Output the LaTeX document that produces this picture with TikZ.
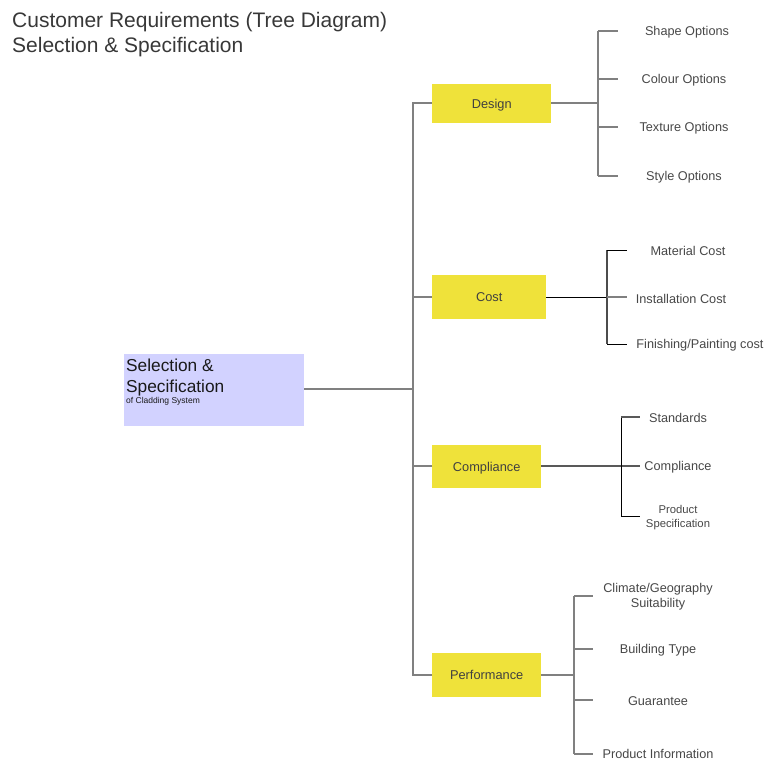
\documentclass[tikz,border=0pt]{standalone}
\usepackage{fontspec}
\setmainfont{Liberation Sans}
\begin{document}
\begin{tikzpicture}[x=1pt,y=-1pt,
  txt/.style={text=black!72, inner sep=0pt, font=\fontsize{12.7}{14}\selectfont, align=center},
  catbox/.style={fill=catyellow, draw=none, inner sep=0pt, anchor=north west,
    text=black!75, font=\fontsize{12.8}{14}\selectfont, text height=9pt, text depth=0pt},
  link/.style={draw=black!50, line width=1.4pt},
  darklink/.style={draw=black, line width=1pt}]
\definecolor{catyellow}{HTML}{EFE23A}
\definecolor{rootblue}{HTML}{D2D2FF}
\useasboundingbox (0,0) rectangle (765,760);

% title
\node[anchor=north west, inner sep=0pt, align=left, text=black!78,
  font=\fontsize{21}{25}\selectfont] (title) at (12,12)
  {Customer Requirements (Tree Diagram)\\Selection \& Specification};

% root
\node[fill=rootblue, draw=none, minimum width=180pt, minimum height=72pt,
  inner sep=0pt, anchor=north west] (root) at (124,354) {};
\node[anchor=north west, inner sep=0pt, align=left, text=black!90,
  font=\fontsize{17.3}{21}\selectfont] (rootlabel) at (126,358.5)
  {Selection \&\\Specification\\[-10pt]{\fontsize{8.5}{9}\selectfont of Cladding System}};

% categories
\node[catbox, minimum width=119pt, minimum height=39pt] (design) at (432,84) {Design};
\node[catbox, minimum width=114pt, minimum height=44pt] (cost) at (432,275) {Cost};
\node[catbox, minimum width=109pt, minimum height=43pt] (compl) at (432,445) {Compliance};
\node[catbox, minimum width=109pt, minimum height=44pt] (perf) at (432,653) {Performance};

% trunk
\coordinate (tTop) at (413,103);
\coordinate (tCost) at (413,297);
\coordinate (tCompl) at (413,466);
\coordinate (tBot) at (413,675);
\coordinate (tRoot) at (413,389);
\draw[link] (root.east |- tRoot) -- (tRoot);
\draw[link] (design.west |- tTop) -- (tTop) -- (tBot) -- (perf.west |- tBot);
\draw[link] (tCost) -- (cost.west |- tCost);
\draw[link] (tCompl) -- (compl.west |- tCompl);

% design leaves
\node[txt] (d1) at (687,32) {Shape Options};
\node[txt] (d2) at (684,80) {Colour Options};
\node[txt] (d3) at (684,128) {Texture Options};
\node[txt] (d4) at (684,177) {Style Options};
\coordinate (dj) at (598,103);
\coordinate (dv1) at (598,31);
\coordinate (dv4) at (598,176);
\draw[link] (design.east |- dj) -- (dj);
\draw[link] (dv1) -- (dv4);
\foreach \y in {31,79,127,176}
  \draw[link] (598,\y) -- (618,\y);

% cost leaves
\node[txt] (c1) at (688,251) {Material Cost};
\node[txt] (c2) at (681,299) {Installation Cost};
\node[txt] (c3) at (700,345) {Finishing/Painting cost};
\coordinate (cj) at (607,297);
\draw[darklink] (cost.east |- cj) -- (cj);
\draw[link, draw=black!70] (607,250) -- (607,344);
\draw[darklink] (607,250) -- (627,250);
\draw[link] (607,297) -- (627,297);
\draw[darklink] (607,344) -- (627,344);

% compliance leaves
\node[txt] (p1) at (678,418) {Standards};
\node[txt] (p2) at (678,467) {Compliance};
\node[txt, font=\fontsize{11.3}{14}\selectfont] (p3) at (678,518) {Product\\Specification};
\coordinate (pj) at (621,466);
\draw[link, draw=black!65] (compl.east |- pj) -- (640,466);
\draw[darklink] (621,417) -- (621,516);
\draw[link, draw=black!65] (621,417) -- (640,417);
\draw[darklink] (621,516) -- (640,516);

% performance leaves
\node[txt, font=\fontsize{12.7}{15}\selectfont] (f1) at (658,597) {Climate/Geography\\Suitability};
\node[txt] (f2) at (658,650) {Building Type};
\node[txt] (f3) at (658,701) {Guarantee};
\node[txt] (f4) at (658,753.5) {Product Information};
\coordinate (fj) at (574,675);
\draw[link] (perf.east |- fj) -- (fj);
\draw[link] (574,596) -- (574,754);
\foreach \y in {596,649,700,754}
  \draw[link] (574,\y) -- (593,\y);
\end{tikzpicture}
\end{document}
